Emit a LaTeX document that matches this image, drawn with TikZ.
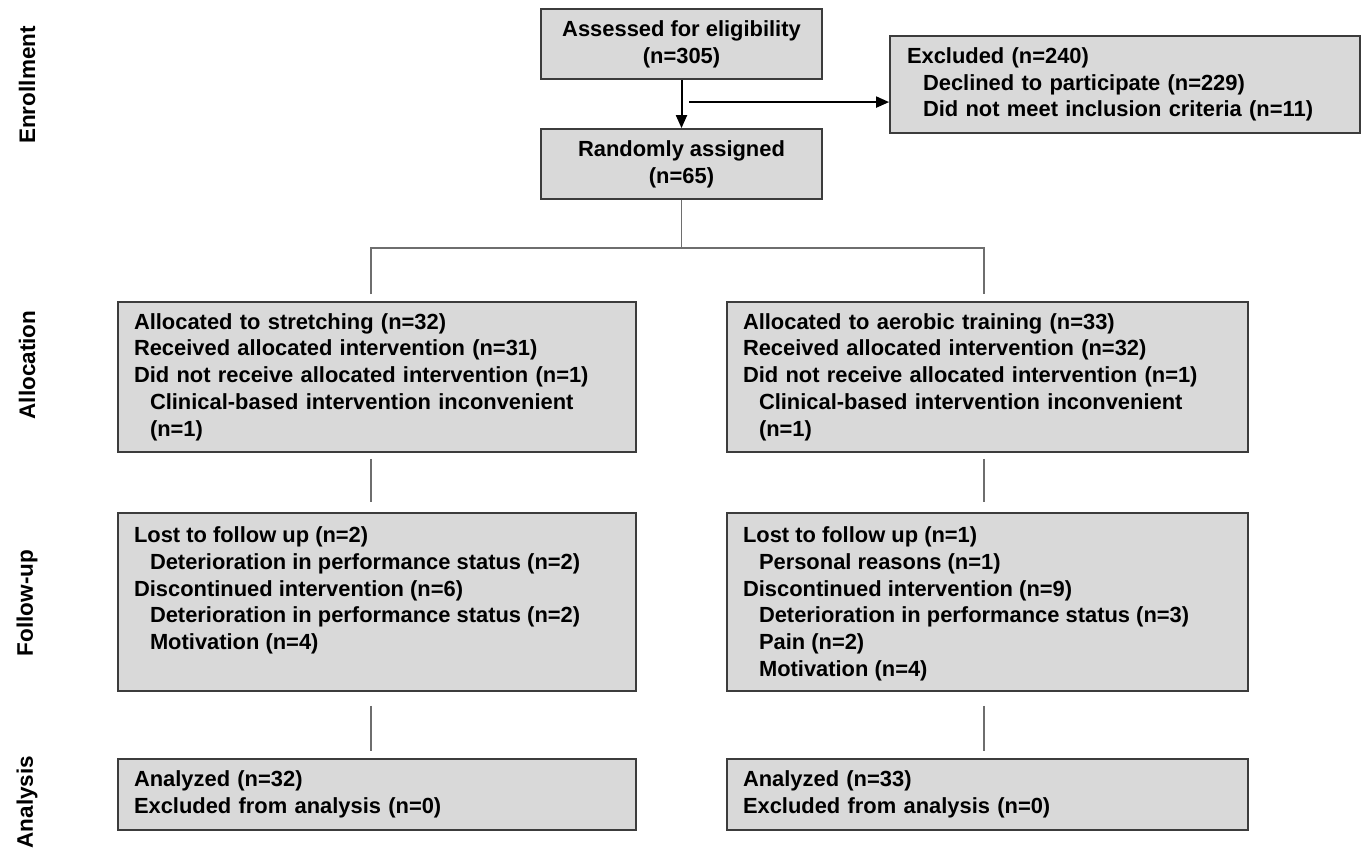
\documentclass[tikz,border=0pt]{standalone}
\usepackage{fontspec}
\setmainfont{Liberation Sans}
\usetikzlibrary{arrows.meta,calc}
\definecolor{boxc}{HTML}{D9D9D9}
\definecolor{bordc}{HTML}{3C3C3C}
\definecolor{connc}{HTML}{6E6E6E}
\newcommand{\ind}{\hspace*{16pt}}
\begin{document}
\begin{tikzpicture}[x=1pt,y=-1pt,
  box/.style={draw=bordc, fill=boxc, line width=1.8pt, inner xsep=16pt, inner ysep=0pt,
    font=\fontsize{21.9}{26.7}\selectfont\bfseries, align=left},
  lab/.style={rotate=90, font=\fontsize{22.5}{24}\selectfont\bfseries, inner sep=0pt},
  conn/.style={draw=connc, line width=1.2pt},
  arr/.style={draw=black, line width=2pt, -{Triangle[length=13pt,width=11pt]}}]
\fill[white] (0,0) rectangle (1362,852);
\useasboundingbox (0,0) rectangle (1362,852);

\node[lab] (lenr) at (27,85) {Enrollment};
\node[lab] (lalloc) at (27,365) {Allocation};
\node[lab] (lfu) at (27,603) {Follow-up};
\node[lab] (lan) at (27,802) {Analysis};

\node[box, align=center, minimum width=281pt, minimum height=70pt] (assess) at (681.5,44)
  {Assessed for eligibility\\(n=305)};
\node[box, align=center, minimum width=281pt, minimum height=70pt] (rand) at (681.5,164)
  {Randomly assigned\\(n=65)};
\node[box, inner xsep=17pt, text width=436pt, minimum height=97pt] (excl) at (1125,84.5)
  {Excluded (n=240)\\\ind Declined to participate (n=229)\\\ind Did not meet inclusion criteria (n=11)};

\node[box, text width=486pt, minimum height=150pt] (allocL) at (377,377)
  {Allocated to stretching (n=32)\\Received allocated intervention (n=31)\\Did not receive allocated intervention (n=1)\\\ind Clinical-based intervention inconvenient\\\ind (n=1)};
\node[box, text width=489pt, minimum height=150pt] (allocR) at (987.5,377)
  {Allocated to aerobic training (n=33)\\Received allocated intervention (n=32)\\Did not receive allocated intervention (n=1)\\\ind Clinical-based intervention inconvenient\\\ind (n=1)};

\node[box] (fuL) at (377,602)
  {\parbox[c][178pt][t]{486pt}{\raggedright\vspace*{14pt}Lost to follow up (n=2)\\\ind Deterioration in performance status (n=2)\\Discontinued intervention (n=6)\\\ind Deterioration in performance status (n=2)\\\ind Motivation (n=4)}};
\node[box] (fuR) at (987.5,602)
  {\parbox[c][178pt][t]{489pt}{\raggedright\vspace*{14pt}Lost to follow up (n=1)\\\ind Personal reasons (n=1)\\Discontinued intervention (n=9)\\\ind Deterioration in performance status (n=3)\\\ind Pain (n=2)\\\ind Motivation (n=4)}};

\node[box, text width=486pt, minimum height=71pt] (anL) at (377,794.5)
  {Analyzed (n=32)\\Excluded from analysis (n=0)};
\node[box, text width=489pt, minimum height=71pt] (anR) at (987.5,794.5)
  {Analyzed (n=33)\\Excluded from analysis (n=0)};

\draw[arr] (assess.south) -- (rand.north);
\coordinate (mid) at ($(assess.south)!0.46!(rand.north)$);
\draw[arr] ([xshift=7.5pt]mid) -- (mid -| excl.west);

\coordinate (split) at ($(rand.south)+(0,48)$);
\draw[conn] (rand.south) -- (split);
\draw[conn] ([xshift=-6pt,yshift=7pt]allocL.north) |- (split) -| ([xshift=-3.5pt,yshift=7pt]allocR.north);

\draw[conn] ([xshift=-6pt,yshift=-6pt]allocL.south) -- ([xshift=-6pt,yshift=10pt]fuL.north);
\draw[conn] ([xshift=-3.5pt,yshift=-6pt]allocR.south) -- ([xshift=-3.5pt,yshift=10pt]fuR.north);
\draw[conn] ([xshift=-6pt,yshift=-14pt]fuL.south) -- ([xshift=-6pt,yshift=7pt]anL.north);
\draw[conn] ([xshift=-3.5pt,yshift=-14pt]fuR.south) -- ([xshift=-3.5pt,yshift=7pt]anR.north);
\end{tikzpicture}
\end{document}
